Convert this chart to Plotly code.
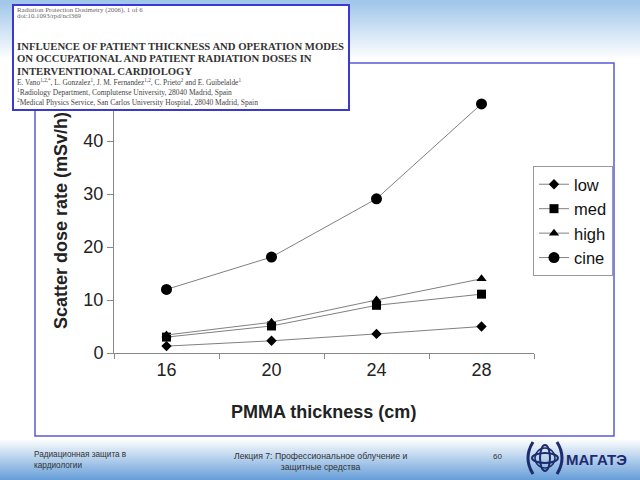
import plotly.graph_objects as go

# ---- data ----
thickness = ["16", "20", "24", "28"]
low = [1.3, 2.3, 3.6, 5.0]
med = [3.0, 5.1, 9.0, 11.1]
high = [3.4, 5.8, 10.0, 14.0]
cine = [12.0, 18.1, 29.1, 47.0]
series_names = ["low", "med", "high", "cine"]
series_symbols = ["diamond", "square", "triangle-up", "circle"]
series_sizes = [8, 9, 9, 11]
y_ticks = [0, 10, 20, 30, 40]

W, H = 640, 480
L, R, T, B = 114, 106, 88, 127
PW, PH = W - L - R, H - T - B


def px(x):
    return (x - L) / PW


def py(y):
    return (H - B - y) / PH


ARIAL = "Arial, Liberation Sans, sans-serif"
SERIF = "Times New Roman, Liberation Serif, serif"

fig = go.Figure()
for name, vals, sym, sz in zip(series_names, [low, med, high, cine], series_symbols, series_sizes):
    fig.add_trace(go.Scatter(
        x=thickness, y=vals, name=name, mode="lines+markers",
        line=dict(color="#808080", width=1),
        marker=dict(symbol=sym, size=sz, color="black"),
    ))

shapes = []
# top gradient band
top_c0 = (160, 198, 234)
n = 30
for i in range(n):
    t = i / (n - 1)
    c = tuple(int(top_c0[k] + (255 - top_c0[k]) * t) for k in range(3))
    shapes.append(dict(type="rect", xref="paper", yref="paper", x0=px(0), x1=px(W),
                       y0=py(i * 2), y1=py(i * 2 + 2), fillcolor="rgb(%d,%d,%d)" % c,
                       line=dict(width=0), layer="below"))
# bottom gradient band
bot_c1 = (105, 160, 218)
n2 = 21
for i in range(n2):
    t = i / (n2 - 1)
    c = tuple(int(255 + (bot_c1[k] - 255) * t) for k in range(3))
    shapes.append(dict(type="rect", xref="paper", yref="paper", x0=px(0), x1=px(W),
                       y0=py(438 + i * 2), y1=py(438 + i * 2 + 2), fillcolor="rgb(%d,%d,%d)" % c,
                       line=dict(width=0), layer="below"))
# frame
shapes.append(dict(type="rect", xref="paper", yref="paper", x0=px(35), x1=px(614),
                   y0=py(436), y1=py(63), line=dict(color="#5a5ad8", width=1.5),
                   fillcolor="rgba(0,0,0,0)", layer="above"))
# logo (atom-like)
lx, ly = 545, 458
for (rx, ry) in [(13, 5), (5, 13)]:
    shapes.append(dict(type="circle", xref="paper", yref="paper",
                       x0=px(lx - rx), x1=px(lx + rx), y0=py(ly + ry), y1=py(ly - ry),
                       line=dict(color="#1d2c6e", width=2), layer="above"))
shapes.append(dict(type="circle", xref="paper", yref="paper",
                   x0=px(lx - 10), x1=px(lx + 10), y0=py(ly + 10), y1=py(ly - 10),
                   line=dict(color="#1d2c6e", width=1.5), layer="above"))
shapes.append(dict(type="path", xref="paper", yref="paper",
                   path="M %f %f Q %f %f %f %f" % (px(lx - 12), py(ly - 16), px(lx - 22), py(ly), px(lx - 12), py(ly + 16)),
                   line=dict(color="#1d2c6e", width=3), layer="above"))
shapes.append(dict(type="path", xref="paper", yref="paper",
                   path="M %f %f Q %f %f %f %f" % (px(lx + 12), py(ly - 16), px(lx + 22), py(ly), px(lx + 12), py(ly + 16)),
                   line=dict(color="#1d2c6e", width=3), layer="above"))

annotations = []
# y axis title (drawn first so that the header box covers it)
annotations.append(dict(text="<b>Scatter dose rate (mSv/h)</b>", textangle=-90,
                        xref="paper", yref="paper", x=px(60.5), y=py(331),
                        xanchor="center", yanchor="bottom", showarrow=False,
                        font=dict(family=ARIAL, size=18, color="#222")))
annotations.append(dict(text="<b>PMMA thickness (cm)</b>",
                        xref="paper", yref="paper", x=px(323), y=py(412),
                        xanchor="center", yanchor="middle", showarrow=False,
                        font=dict(family=ARIAL, size=18, color="#222")))
# header box
annotations.append(dict(text=" ", xref="paper", yref="paper", x=px(12), y=py(4),
                        xanchor="left", yanchor="top", showarrow=False,
                        width=334, height=103, bgcolor="white",
                        bordercolor="#3a3ad0", borderwidth=2, borderpad=0))
header_lines = [
    ("Radiation Protection Dosimetry (2006), 1 of 6", 10, 6.8, "#666"),
    ("doi:10.1093/rpd/ncl369", 15.5, 6.8, "#666"),
    ("<b>INFLUENCE OF PATIENT THICKNESS AND OPERATION MODES</b>", 46, 10.7, "#333"),
    ("<b>ON OCCUPATIONAL AND PATIENT RADIATION DOSES IN</b>", 58.5, 10.7, "#333"),
    ("<b>INTERVENTIONAL CARDIOLOGY</b>", 71, 10.7, "#333"),
    ("E. Vano<sup>1,2,*</sup>, L. Gonzalez<sup>1</sup>, J. M. Fernandez<sup>1,2</sup>, "
     "C. Prieto<sup>2</sup> and E. Guibelalde<sup>1</sup>", 82.5, 7.4, "#444"),
    ("<sup>1</sup>Radiology Department, Complutense University, 28040 Madrid, Spain", 92, 7.5, "#444"),
    ("<sup>2</sup>Medical Physics Service, San Carlos University Hospital, 28040 Madrid, Spain", 101.5, 7.5, "#444"),
]
for txt, yy, fs, col in header_lines:
    annotations.append(dict(text=txt, xref="paper", yref="paper", x=px(15), y=py(yy),
                            xanchor="left", yanchor="middle", showarrow=False,
                            font=dict(family=SERIF, size=fs, color=col)))
# footer
annotations += [
    dict(text="Радиационная защита в<br>кардиологии", x=px(32), y=py(460), xanchor="left",
         align="left", font=dict(family=ARIAL, size=8.2, color="#333")),
    dict(text="Лекция 7: Профессиональное облучение и<br>защитные средства", x=px(320), y=py(461),
         xanchor="center", align="center", font=dict(family=ARIAL, size=8.7, color="#333")),
    dict(text="60", x=px(497), y=py(456), xanchor="center",
         font=dict(family=ARIAL, size=8, color="#333")),
    dict(text="<b>МАГАТЭ</b>", x=px(564), y=py(459), xanchor="left",
         font=dict(family=ARIAL, size=15, color="#1d2c6e")),
]
for a in annotations[-4:]:
    a.update(xref="paper", yref="paper", yanchor="middle", showarrow=False)

fig.update_layout(
    width=W, height=H,
    margin=dict(l=L, r=R, t=T, b=B, pad=0),
    paper_bgcolor="white", plot_bgcolor="rgba(0,0,0,0)",
    font=dict(family=ARIAL, size=18, color="#222"),
    showlegend=True,
    legend=dict(x=px(533), y=py(166), xanchor="left", yanchor="top",
                bordercolor="#999", borderwidth=1, bgcolor="white",
                font=dict(family=ARIAL, size=16.5, color="#111"),
                itemwidth=30, tracegroupgap=0),
    xaxis=dict(type="category", range=[-0.5, 3.5], tickson="boundaries",
               ticks="outside", ticklen=5, tickcolor="#888", showline=True,
               linecolor="#888", linewidth=1, showgrid=False, zeroline=False,
               tickfont=dict(family=ARIAL, size=18, color="#222"), fixedrange=True),
    yaxis=dict(range=[0, 50], tickvals=y_ticks, ticks="outside", ticklen=6,
               tickcolor="#888", showline=True, linecolor="#888", linewidth=1,
               showgrid=False, zeroline=False,
               tickfont=dict(family=ARIAL, size=18, color="#222"), fixedrange=True),
    shapes=shapes,
    annotations=annotations,
)

fig.write_html("out.html")
